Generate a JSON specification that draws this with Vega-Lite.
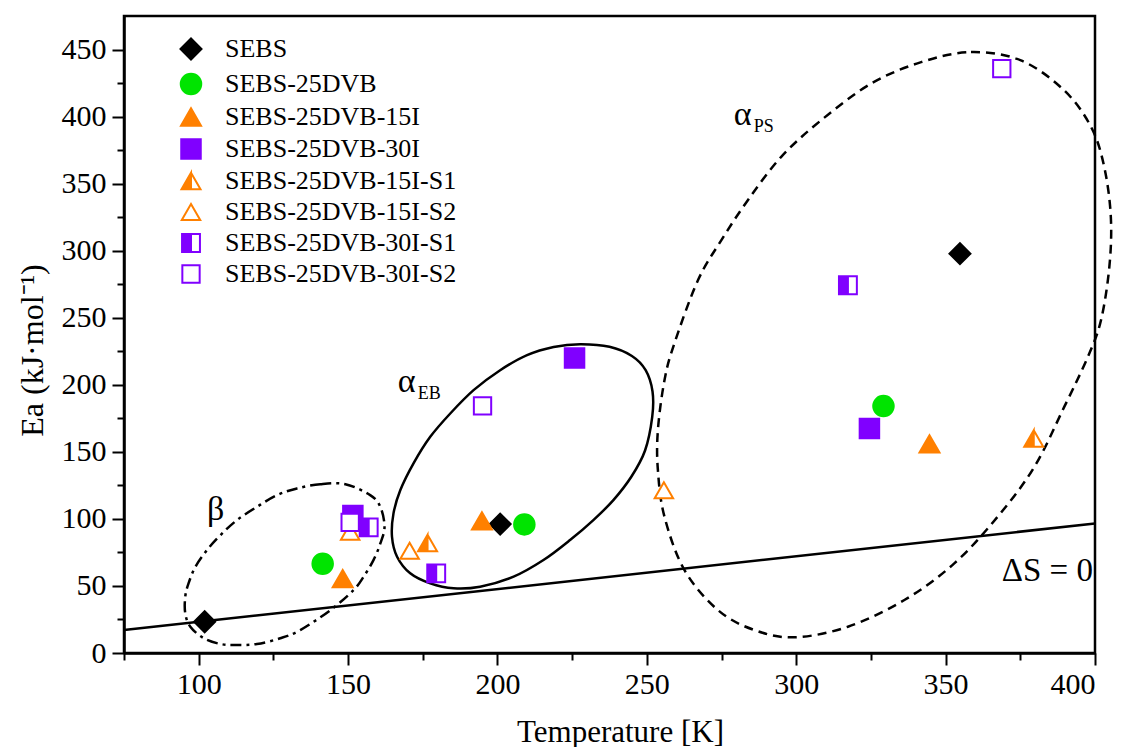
{
  "$schema": "https://vega.github.io/schema/vega-lite/v6.json",
  "width": 971,
  "height": 637,
  "autosize": {"type": "none"},
  "padding": {"left": 124, "top": 16, "right": 26, "bottom": 94},
  "background": "white",
  "config": {
    "font": "Liberation Serif",
    "view": {"stroke": "black", "strokeWidth": 2.5},
    "axis": {
      "domainColor": "black", "domainWidth": 2.5, "tickColor": "black", "tickWidth": 2,
      "labelFont": "Liberation Serif", "labelFontSize": 30, "labelColor": "black",
      "titleFont": "Liberation Serif", "titleFontSize": 31, "titleFontWeight": "normal", "titleColor": "black",
      "grid": false
    }
  },
  "datasets": {
    "pts": [
      {"series": "SEBS", "T": 102.0, "Ea": 23.3},
      {"series": "SEBS", "T": 200.9, "Ea": 96.1},
      {"series": "SEBS", "T": 354.8, "Ea": 297.8},
      {"series": "SEBS-25DVB", "T": 141.5, "Ea": 66.5},
      {"series": "SEBS-25DVB", "T": 209.0, "Ea": 95.9},
      {"series": "SEBS-25DVB", "T": 329.2, "Ea": 184.1},
      {"series": "SEBS-25DVB-15I", "T": 148.2, "Ea": 55.5},
      {"series": "SEBS-25DVB-15I", "T": 194.8, "Ea": 98.5},
      {"series": "SEBS-25DVB-15I", "T": 344.6, "Ea": 156.0},
      {"series": "SEBS-25DVB-30I", "T": 151.6, "Ea": 102.5},
      {"series": "SEBS-25DVB-30I", "T": 225.8, "Ea": 220.0},
      {"series": "SEBS-25DVB-30I", "T": 324.5, "Ea": 167.4},
      {"series": "SEBS-25DVB-15I-S1", "T": 176.6, "Ea": 82.0},
      {"series": "SEBS-25DVB-15I-S1", "T": 379.5, "Ea": 160.0},
      {"series": "SEBS-25DVB-15I-S2", "T": 150.7, "Ea": 90.4},
      {"series": "SEBS-25DVB-15I-S2", "T": 170.6, "Ea": 76.2},
      {"series": "SEBS-25DVB-15I-S2", "T": 255.7, "Ea": 121.3},
      {"series": "SEBS-25DVB-30I-S1", "T": 156.9, "Ea": 93.7},
      {"series": "SEBS-25DVB-30I-S1", "T": 179.5, "Ea": 59.4},
      {"series": "SEBS-25DVB-30I-S1", "T": 317.3, "Ea": 274.2},
      {"series": "SEBS-25DVB-30I-S2", "T": 150.7, "Ea": 97.4},
      {"series": "SEBS-25DVB-30I-S2", "T": 195.0, "Ea": 184.3},
      {"series": "SEBS-25DVB-30I-S2", "T": 368.8, "Ea": 435.7}
    ],
    "ell": [
      {"e": "beta", "i": 0, "T": 132.9, "Ea": 122.7},
      {"e": "beta", "i": 1, "T": 140.7, "Ea": 125.9},
      {"e": "beta", "i": 2, "T": 149.1, "Ea": 125.9},
      {"e": "beta", "i": 3, "T": 157.4, "Ea": 117.7},
      {"e": "beta", "i": 4, "T": 160.8, "Ea": 109.0},
      {"e": "beta", "i": 5, "T": 162.2, "Ea": 94.1},
      {"e": "beta", "i": 6, "T": 160.8, "Ea": 81.7},
      {"e": "beta", "i": 7, "T": 158.5, "Ea": 69.3},
      {"e": "beta", "i": 8, "T": 155.2, "Ea": 56.9},
      {"e": "beta", "i": 9, "T": 151.8, "Ea": 46.9},
      {"e": "beta", "i": 10, "T": 144.1, "Ea": 32.0},
      {"e": "beta", "i": 11, "T": 134.0, "Ea": 17.1},
      {"e": "beta", "i": 12, "T": 127.3, "Ea": 11.0},
      {"e": "beta", "i": 13, "T": 119.5, "Ea": 6.7},
      {"e": "beta", "i": 14, "T": 112.8, "Ea": 6.0},
      {"e": "beta", "i": 15, "T": 107.3, "Ea": 6.7},
      {"e": "beta", "i": 16, "T": 101.7, "Ea": 11.0},
      {"e": "beta", "i": 17, "T": 97.2, "Ea": 19.6},
      {"e": "beta", "i": 18, "T": 95.5, "Ea": 29.6},
      {"e": "beta", "i": 19, "T": 95.5, "Ea": 42.0},
      {"e": "beta", "i": 20, "T": 96.6, "Ea": 51.9},
      {"e": "beta", "i": 21, "T": 98.9, "Ea": 64.3},
      {"e": "beta", "i": 22, "T": 102.8, "Ea": 76.8},
      {"e": "beta", "i": 23, "T": 107.3, "Ea": 87.9},
      {"e": "beta", "i": 24, "T": 112.8, "Ea": 99.1},
      {"e": "beta", "i": 25, "T": 119.5, "Ea": 109.0},
      {"e": "beta", "i": 26, "T": 126.2, "Ea": 117.7},
      {"e": "eb", "i": 0, "T": 227.7, "Ea": 230.3},
      {"e": "eb", "i": 1, "T": 237.5, "Ea": 228.4},
      {"e": "eb", "i": 2, "T": 245.0, "Ea": 221.5},
      {"e": "eb", "i": 3, "T": 249.6, "Ea": 210.9},
      {"e": "eb", "i": 4, "T": 251.9, "Ea": 195.0},
      {"e": "eb", "i": 5, "T": 251.8, "Ea": 176.1},
      {"e": "eb", "i": 6, "T": 249.4, "Ea": 151.0},
      {"e": "eb", "i": 7, "T": 244.8, "Ea": 131.4},
      {"e": "eb", "i": 8, "T": 238.8, "Ea": 114.0},
      {"e": "eb", "i": 9, "T": 232.1, "Ea": 99.1},
      {"e": "eb", "i": 10, "T": 224.3, "Ea": 84.2},
      {"e": "eb", "i": 11, "T": 215.4, "Ea": 69.3},
      {"e": "eb", "i": 12, "T": 205.4, "Ea": 56.9},
      {"e": "eb", "i": 13, "T": 194.2, "Ea": 49.4},
      {"e": "eb", "i": 14, "T": 185.3, "Ea": 48.2},
      {"e": "eb", "i": 15, "T": 177.5, "Ea": 51.9},
      {"e": "eb", "i": 16, "T": 170.8, "Ea": 59.4},
      {"e": "eb", "i": 17, "T": 166.4, "Ea": 71.8},
      {"e": "eb", "i": 18, "T": 164.7, "Ea": 86.7},
      {"e": "eb", "i": 19, "T": 165.2, "Ea": 104.1},
      {"e": "eb", "i": 20, "T": 167.5, "Ea": 121.5},
      {"e": "eb", "i": 21, "T": 171.9, "Ea": 141.4},
      {"e": "eb", "i": 22, "T": 177.5, "Ea": 161.2},
      {"e": "eb", "i": 23, "T": 184.2, "Ea": 178.6},
      {"e": "eb", "i": 24, "T": 192.0, "Ea": 196.0},
      {"e": "eb", "i": 25, "T": 200.9, "Ea": 210.9},
      {"e": "eb", "i": 26, "T": 209.9, "Ea": 222.1},
      {"e": "eb", "i": 27, "T": 218.8, "Ea": 228.2},
      {"e": "ps", "i": 0, "T": 341.8, "Ea": 440.6},
      {"e": "ps", "i": 1, "T": 358.5, "Ea": 448.1},
      {"e": "ps", "i": 2, "T": 375.2, "Ea": 441.9},
      {"e": "ps", "i": 3, "T": 389.7, "Ea": 419.5},
      {"e": "ps", "i": 4, "T": 398.7, "Ea": 392.2},
      {"e": "ps", "i": 5, "T": 403.1, "Ea": 362.4},
      {"e": "ps", "i": 6, "T": 405.3, "Ea": 325.1},
      {"e": "ps", "i": 7, "T": 404.8, "Ea": 287.9},
      {"e": "ps", "i": 8, "T": 402.0, "Ea": 248.1},
      {"e": "ps", "i": 9, "T": 397.6, "Ea": 220.8},
      {"e": "ps", "i": 10, "T": 389.7, "Ea": 183.5},
      {"e": "ps", "i": 11, "T": 379.7, "Ea": 138.8},
      {"e": "ps", "i": 12, "T": 367.4, "Ea": 101.6},
      {"e": "ps", "i": 13, "T": 352.9, "Ea": 66.8},
      {"e": "ps", "i": 14, "T": 336.2, "Ea": 39.5},
      {"e": "ps", "i": 15, "T": 317.3, "Ea": 19.6},
      {"e": "ps", "i": 16, "T": 299.4, "Ea": 11.7},
      {"e": "ps", "i": 17, "T": 286.0, "Ea": 17.1},
      {"e": "ps", "i": 18, "T": 273.8, "Ea": 32.0},
      {"e": "ps", "i": 19, "T": 262.6, "Ea": 61.8},
      {"e": "ps", "i": 20, "T": 255.9, "Ea": 101.6},
      {"e": "ps", "i": 21, "T": 253.7, "Ea": 136.4},
      {"e": "ps", "i": 22, "T": 253.7, "Ea": 166.2},
      {"e": "ps", "i": 23, "T": 255.9, "Ea": 203.4},
      {"e": "ps", "i": 24, "T": 259.2, "Ea": 230.8},
      {"e": "ps", "i": 25, "T": 267.1, "Ea": 277.9},
      {"e": "ps", "i": 26, "T": 274.9, "Ea": 307.7},
      {"e": "ps", "i": 27, "T": 283.8, "Ea": 337.6},
      {"e": "ps", "i": 28, "T": 294.9, "Ea": 369.8},
      {"e": "ps", "i": 29, "T": 308.3, "Ea": 397.2},
      {"e": "ps", "i": 30, "T": 325.0, "Ea": 424.5}
    ],
    "ds": [
      {"T": 75, "Ea": 17.1},
      {"T": 400, "Ea": 96.6}
    ],
    "notes": [
      {"T": 105.7, "Ea": 106.6, "main": "β", "sub": ""},
      {"T": 169.6, "Ea": 202.2, "main": "α", "sub": "EB"},
      {"T": 282.1, "Ea": 401.3, "main": "α", "sub": "PS"}
    ],
    "dslabel": [
      {"T": 399.3, "Ea": 53.9, "label": "ΔS = 0"}
    ]
  },
  "layer": [
    {
      "data": {"name": "ell"},
      "transform": [{"filter": "datum.e === 'beta'"}],
      "mark": {"type": "line", "interpolate": "cardinal-closed", "color": "black", "strokeWidth": 2.5, "strokeDash": [11, 5, 3, 5], "clip": false},
      "encoding": {
        "x": {"field": "T", "type": "quantitative", "scale": {"domain": [75, 400], "nice": false, "zero": false}, "axis": null},
        "y": {"field": "Ea", "type": "quantitative", "scale": {"domain": [0, 475], "nice": false, "zero": false}, "axis": null},
        "order": {"field": "i", "type": "quantitative"}
      }
    },
    {
      "data": {"name": "ell"},
      "transform": [{"filter": "datum.e === 'eb'"}],
      "mark": {"type": "line", "interpolate": "cardinal-closed", "color": "black", "strokeWidth": 2.5, "clip": false},
      "encoding": {
        "x": {"field": "T", "type": "quantitative", "axis": null},
        "y": {"field": "Ea", "type": "quantitative", "axis": null},
        "order": {"field": "i", "type": "quantitative"}
      }
    },
    {
      "data": {"name": "ell"},
      "transform": [{"filter": "datum.e === 'ps'"}],
      "mark": {"type": "line", "interpolate": "cardinal-closed", "color": "black", "strokeWidth": 2.5, "strokeDash": [9, 6], "clip": false},
      "encoding": {
        "x": {"field": "T", "type": "quantitative", "axis": null},
        "y": {"field": "Ea", "type": "quantitative", "axis": null},
        "order": {"field": "i", "type": "quantitative"}
      }
    },
    {
      "data": {"name": "ds"},
      "mark": {"type": "line", "color": "black", "strokeWidth": 2.5, "clip": false},
      "encoding": {
        "x": {"field": "T", "type": "quantitative", "axis": {"orient": "bottom", "values": [75, 125, 175, 225, 275, 325, 375], "tickSize": 7, "labels": false, "domain": false, "title": null}},
        "y": {"field": "Ea", "type": "quantitative", "axis": {"orient": "left", "values": [25, 75, 125, 175, 225, 275, 325, 375, 425], "tickSize": 7, "labels": false, "domain": false, "title": null}}
      }
    },
    {
      "data": {"name": "notes"},
      "mark": {"type": "text", "font": "Liberation Serif", "fontSize": 34, "align": "center", "baseline": "middle", "color": "black"},
      "encoding": {
        "x": {"field": "T", "type": "quantitative", "axis": null},
        "y": {"field": "Ea", "type": "quantitative", "axis": null},
        "text": {"field": "main"}
      }
    },
    {
      "data": {"name": "notes"},
      "mark": {"type": "text", "font": "Liberation Serif", "fontSize": 18, "align": "left", "baseline": "middle", "dx": 11, "dy": 12, "color": "black"},
      "encoding": {
        "x": {"field": "T", "type": "quantitative", "axis": null},
        "y": {"field": "Ea", "type": "quantitative", "axis": null},
        "text": {"field": "sub"}
      }
    },
    {
      "data": {"name": "dslabel"},
      "mark": {"type": "text", "font": "Liberation Serif", "fontSize": 33, "align": "right", "baseline": "alphabetic", "color": "black"},
      "encoding": {
        "x": {"field": "T", "type": "quantitative", "axis": null},
        "y": {"field": "Ea", "type": "quantitative", "axis": null},
        "text": {"field": "label"}
      }
    },
    {
      "data": {"name": "pts"},
      "mark": {"type": "point", "filled": true, "opacity": 1, "strokeWidth": 2, "clip": false},
      "encoding": {
        "x": {"field": "T", "type": "quantitative", "axis": {"orient": "bottom", "values": [100, 150, 200, 250, 300, 350, 400], "tickSize": 12, "labelPadding": 4, "title": "Temperature [K]", "titlePadding": 18, "titleX": 496}},
        "y": {"field": "Ea", "type": "quantitative", "axis": {"orient": "left", "values": [0, 50, 100, 150, 200, 250, 300, 350, 400, 450], "tickSize": 12, "labelPadding": 6, "title": "Ea (kJ·mol⁻¹)", "titleFontSize": 32, "titlePadding": 12, "titleY": 334}},
        "fill": {
          "field": "series", "type": "nominal",
          "scale": {"domain": ["SEBS", "SEBS-25DVB", "SEBS-25DVB-15I", "SEBS-25DVB-30I", "SEBS-25DVB-15I-S1", "SEBS-25DVB-15I-S2", "SEBS-25DVB-30I-S1", "SEBS-25DVB-30I-S2"],
                    "range": ["#000000", "#00e400", "#ff8000", "#8000ff", "#ff8000", "#ffffff", "#8000ff", "#ffffff"]},
          "legend": {"orient": "none", "legendX": 54, "legendY": 20, "title": null, "labelFont": "Liberation Serif", "labelFontSize": 26, "labelColor": "black", "labelLimit": 400, "labelOffset": 21, "rowPadding": 5, "symbolStrokeWidth": 2, "padding": 0}
        },
        "stroke": {
          "field": "series", "type": "nominal",
          "scale": {"domain": ["SEBS", "SEBS-25DVB", "SEBS-25DVB-15I", "SEBS-25DVB-30I", "SEBS-25DVB-15I-S1", "SEBS-25DVB-15I-S2", "SEBS-25DVB-30I-S1", "SEBS-25DVB-30I-S2"],
                    "range": ["#000000", "#00e400", "#ff8000", "#8000ff", "#ff8000", "#ff8000", "#8000ff", "#8000ff"]},
          "legend": {"orient": "none", "legendX": 54, "legendY": 20, "title": null, "labelFont": "Liberation Serif", "labelFontSize": 26, "labelColor": "black", "labelLimit": 400, "labelOffset": 21, "rowPadding": 5, "symbolStrokeWidth": 2, "padding": 0}
        },
        "shape": {
          "field": "series", "type": "nominal",
          "scale": {"domain": ["SEBS", "SEBS-25DVB", "SEBS-25DVB-15I", "SEBS-25DVB-30I", "SEBS-25DVB-15I-S1", "SEBS-25DVB-15I-S2", "SEBS-25DVB-30I-S1", "SEBS-25DVB-30I-S2"],
                    "range": ["diamond", "circle", "triangle-up", "square", "M0,-0.866L-1,0.866L0,0.866Z M0,-0.866L1,0.866L0,0.866L1,0.866Z", "triangle-up", "M-1,-1L0,-1L0,1L-1,1Z M0,-1L1,-1L1,1L0,1L1,1L1,-1Z", "square"]},
          "legend": {"orient": "none", "legendX": 54, "legendY": 20, "title": null, "labelFont": "Liberation Serif", "labelFontSize": 26, "labelColor": "black", "labelLimit": 400, "labelOffset": 21, "rowPadding": 5, "symbolStrokeWidth": 2, "padding": 0}
        },
        "size": {
          "field": "series", "type": "nominal",
          "scale": {"domain": ["SEBS", "SEBS-25DVB", "SEBS-25DVB-15I", "SEBS-25DVB-30I", "SEBS-25DVB-15I-S1", "SEBS-25DVB-15I-S2", "SEBS-25DVB-30I-S1", "SEBS-25DVB-30I-S2"],
                    "range": [441, 300, 420, 225, 420, 420, 225, 225]},
          "legend": {"orient": "none", "legendX": 54, "legendY": 20, "title": null, "labelFont": "Liberation Serif", "labelFontSize": 26, "labelColor": "black", "labelLimit": 400, "labelOffset": 21, "rowPadding": 5, "symbolStrokeWidth": 2, "padding": 0}
        }
      }
    }
  ],
  "resolve": {"axis": {"x": "independent", "y": "independent"}}
}
